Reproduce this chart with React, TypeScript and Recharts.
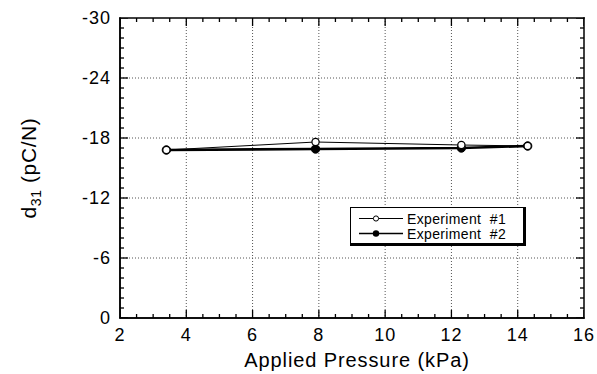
import React from 'react';
import { ComposedChart, Line, Scatter, XAxis, YAxis, CartesianGrid, Legend, ReferenceLine } from 'recharts';

const pressure = [3.4, 7.9, 12.3, 14.3];
const exp1 = [-16.8, -17.6, -17.3, -17.2];
const exp2 = [-16.8, -16.9, -17.0, -17.2];

const xMajor = [2, 4, 6, 8, 10, 12, 14, 16];
const xMinor = [2.5, 3, 3.5, 4.5, 5, 5.5, 6.5, 7, 7.5, 8.5, 9, 9.5, 10.5, 11, 11.5, 12.5, 13, 13.5, 14.5, 15, 15.5];
const yMajor = [-30, -24, -18, -12, -6, 0];
const yMinor = [-29, -28, -27, -26, -25, -23, -22, -21, -20, -19, -17, -16, -15, -14, -13, -11, -10, -9, -8, -7, -5, -4, -3, -2, -1];
const xGrid = [4, 6, 8, 10, 12, 14];
const yGrid = [-24, -18, -12, -6];
const xFrame = [2, 16];
const yFrame = [-30, 0];

const data = pressure.map((p, i) => ({ p, e1: exp1[i], e2: exp2[i] }));

// tick-mark anchor points on the four edges of the frame
const bottomTicks = [...xMajor.map((v) => ({ p: v, v: 0, len: 8 })), ...xMinor.map((v) => ({ p: v, v: 0, len: 4 }))];
const topTicks = [...xMajor.map((v) => ({ p: v, v: -30, len: 8 })), ...xMinor.map((v) => ({ p: v, v: -30, len: 4 }))];
const leftTicks = [...yMajor.map((v) => ({ p: 2, v, len: 8 })), ...yMinor.map((v) => ({ p: 2, v, len: 4 }))];
const rightTicks = [...yMajor.map((v) => ({ p: 16, v, len: 8 })), ...yMinor.map((v) => ({ p: 16, v, len: 4 }))];

const FONT = '"Liberation Sans", Arial, Helvetica, sans-serif';
const TICKTXT = { fill: '#000', fontSize: 18, fontFamily: FONT, letterSpacing: 1 };

const tickRect = (side: 'b' | 't' | 'l' | 'r') => (props: any) => {
  const { cx, cy, payload } = props;
  if (cx == null || cy == null) return <g />;
  const len = (payload && payload.len) || 4;
  const w = 1.3;
  if (side === 'b') return <rect x={cx - w / 2} y={cy - len} width={w} height={len} fill="#000" />;
  if (side === 't') return <rect x={cx - w / 2} y={cy} width={w} height={len} fill="#000" />;
  if (side === 'l') return <rect x={cx} y={cy - w / 2} width={len} height={w} fill="#000" />;
  return <rect x={cx - len} y={cy - w / 2} width={len} height={w} fill="#000" />;
};

const frameLine = (p: any) => (
  <line x1={p.x1} x2={p.x2} y1={p.y1} y2={p.y2} stroke="#000" strokeWidth={1.5} strokeLinecap="square" />
);

const OpenDot = (props: any) => {
  const { cx, cy } = props;
  if (cx == null || cy == null) return null;
  return <circle cx={cx} cy={cy} r={3.6} fill="#fff" stroke="#000" strokeWidth={1.2} />;
};

const FilledDot = (props: any) => {
  const { cx, cy } = props;
  if (cx == null || cy == null) return null;
  return <circle cx={cx} cy={cy} r={4.2} fill="#000" stroke="#000" strokeWidth={1} />;
};

const LegendBox = () => (
  <div
    style={{
      width: 172,
      height: 35,
      borderStyle: 'solid',
      borderColor: '#000',
      borderWidth: '1px 3px 3px 1px',
      background: '#fff',
      position: 'relative',
    }}
  >
    <svg width={172} height={35} style={{ position: 'absolute', left: 0, top: 0 }}>
      <line x1={8} x2={52} y1={10.5} y2={10.5} stroke="#000" strokeWidth={1.2} />
      <circle cx={25} cy={10.5} r={2.6} fill="#fff" stroke="#000" strokeWidth={1} />
      <line x1={8} x2={52} y1={25.5} y2={25.5} stroke="#000" strokeWidth={1.6} />
      <circle cx={25} cy={25.5} r={3.2} fill="#000" />
      <text x={56} y={15.5} fontFamily={FONT} fontSize={14} letterSpacing={0.35} fill="#000">
        {'Experiment\u00a0\u00a0#1'}
      </text>
      <text x={56} y={30.5} fontFamily={FONT} fontSize={14} letterSpacing={0.35} fill="#000">
        {'Experiment\u00a0\u00a0#2'}
      </text>
    </svg>
  </div>
);

const XLabel = (props: any) => {
  const vb = props.viewBox || {};
  return (
    <text
      x={vb.x + vb.width / 2 + 5}
      y={vb.y + 49}
      textAnchor="middle"
      fontFamily={FONT}
      fontSize={20}
      letterSpacing={0.9}
      fill="#000"
    >
      Applied Pressure (kPa)
    </text>
  );
};

const YLabel = (props: any) => {
  const vb = props.viewBox || {};
  const cy = vb.y + vb.height / 2;
  return (
    <text
      transform={`translate(36,${cy}) rotate(-90)`}
      textAnchor="middle"
      fontFamily={FONT}
      fontSize={21}
      letterSpacing={0.6}
      fill="#000"
    >
      d<tspan fontSize={14} dy={5}>31</tspan>
      <tspan dy={-5}>{'\u00a0(pC/N)'}</tspan>
    </text>
  );
};

export default function App() {
  return (
    <div style={{ position: 'fixed', left: 0, top: 0, width: 597, height: 374, background: '#fff' }}>
      <ComposedChart width={597} height={374} data={data} margin={{ top: 18, right: 13, left: 0, bottom: 0 }}>
        <CartesianGrid
          stroke="#555"
          strokeDasharray="1 2"
          horizontalValues={yGrid}
          verticalValues={xGrid}
        />
        <XAxis
          type="number"
          dataKey="p"
          domain={[2, 16]}
          ticks={xMajor}
          interval={0}
          allowDataOverflow
          height={56}
          tickSize={0}
          tickMargin={10}
          tickLine={false}
          axisLine={{ stroke: '#000', strokeWidth: 1.5 }}
          tick={TICKTXT}
          label={<XLabel />}
        />
        <YAxis
          type="number"
          domain={[-30, 0]}
          reversed
          ticks={yMajor}
          interval={0}
          allowDataOverflow
          width={120}
          tickSize={0}
          tickMargin={9}
          tickLine={false}
          axisLine={{ stroke: '#000', strokeWidth: 1.5 }}
          tick={TICKTXT}
          label={<YLabel />}
        />
        {xFrame.map((v) => (
          <ReferenceLine key={'xf' + v} x={v} shape={frameLine} />
        ))}
        {yFrame.map((v) => (
          <ReferenceLine key={'yf' + v} y={v} shape={frameLine} />
        ))}
        <Scatter data={bottomTicks} dataKey="v" shape={tickRect('b')} legendType="none" isAnimationActive={false} />
        <Scatter data={topTicks} dataKey="v" shape={tickRect('t')} legendType="none" isAnimationActive={false} />
        <Scatter data={leftTicks} dataKey="v" shape={tickRect('l')} legendType="none" isAnimationActive={false} />
        <Scatter data={rightTicks} dataKey="v" shape={tickRect('r')} legendType="none" isAnimationActive={false} />
        <Legend
          layout="vertical"
          align="center"
          verticalAlign="middle"
          wrapperStyle={{ left: 350, top: 207, width: 176, height: 39 }}
          content={() => <LegendBox />}
        />
        <Line
          dataKey="e2"
          name="Experiment #2"
          stroke="#000"
          strokeWidth={2.6}
          dot={<FilledDot />}
          isAnimationActive={false}
        />
        <Line
          dataKey="e1"
          name="Experiment #1"
          stroke="#000"
          strokeWidth={1}
          dot={<OpenDot />}
          isAnimationActive={false}
        />
      </ComposedChart>
    </div>
  );
}
